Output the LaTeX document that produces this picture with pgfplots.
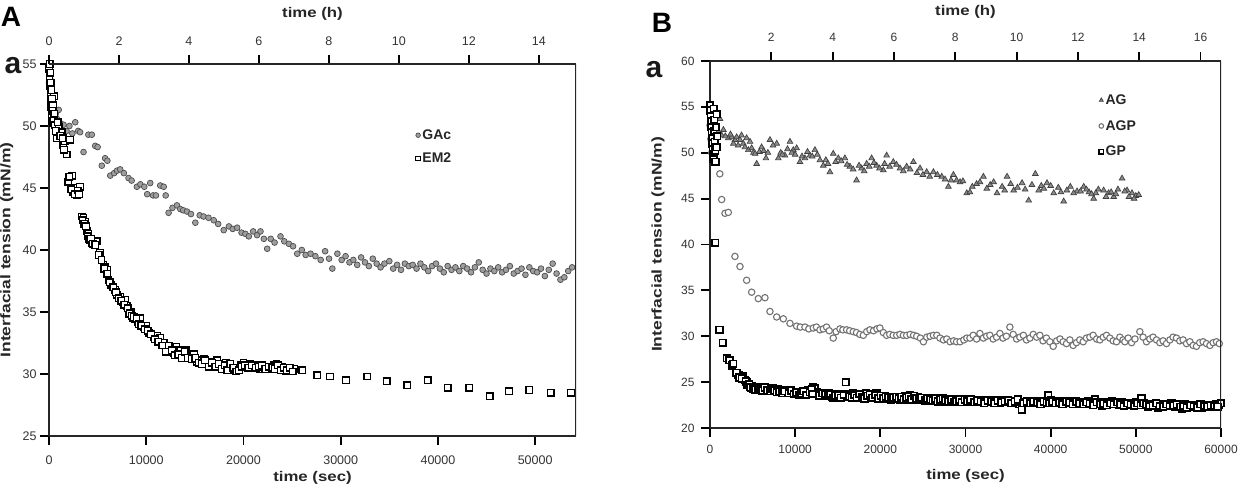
\documentclass[border=0pt]{standalone}
\usepackage{fontspec}
\setmainfont{Liberation Sans}
\usepackage{pgfplots}
\pgfplotsset{compat=1.18}
\usepackage{graphicx}
\begin{document}
\begin{tikzpicture}
\useasboundingbox (0,0) rectangle (1245pt,486pt);
\pgfplotsset{
  base/.style={scale only axis, anchor=south west,
    axis line style={black!85, line width=1.2pt},
    tick align=outside,
    major tick length=9pt,
    every tick/.style={draw=black, line width=1.8pt},
    /pgf/number format/assume math mode=true,
    /pgf/number format/fixed, /pgf/number format/precision=0, /pgf/number format/1000 sep={},
    ticklabel style={font=\fontsize{12.5}{14}\selectfont, text=black!80},
    scaled x ticks=false,
    label style={font=\bfseries\fontsize{14}{16}\selectfont, text=black!85},
  },
  topax/.style={base, axis x line*=top, axis y line=none},
  GAc/.style={only marks, mark=*, mark size=2.9pt, mark options={fill=black!38, draw=black!70, line width=0.7pt}},
  EM2/.style={only marks, mark=square*, mark size=3.3pt, mark options={fill=white, draw=black, line width=1.3pt}},
  AG/.style={only marks, mark=triangle*, mark size=3.3pt, mark options={fill=black!45, draw=black!75, line width=0.7pt}},
  AGP/.style={only marks, mark=*, mark size=3.2pt, mark options={fill=white, draw=black!55, line width=1.1pt}},
  GP/.style={only marks, mark=square*, mark size=3.3pt, mark options={fill=white, draw=black, line width=1.7pt}},
}
% ---------------- Panel A ----------------
\begin{axis}[base, at={(49pt,50pt)}, width=527pt, height=372pt,
  xmin=0, xmax=54200, ymin=25, ymax=55,
  axis x line*=bottom, axis y line*=left,
  xtick={0,10000,20000,30000,40000,50000}, ytick={25,30,35,40,45,50,55},
  xticklabel style={yshift=-7pt},
  xlabel={\scalebox{1.2}[1]{time (sec)}},
  xlabel style={at={(axis description cs:0.5,-0.112)}, anchor=center},
  ylabel={\scalebox{1.25}[1]{Interfacial tension (mN/m)}},
  ylabel style={at={(axis description cs:-0.080,0.5)}, anchor=center},
  legend style={at={(0.69,0.835)}, anchor=north west, draw=none, fill=none,
    font=\bfseries\fontsize{14}{16}\selectfont, row sep=8pt, text=black!85},
  legend cell align=left,
  legend image post style={mark size=2.3pt},
]
\addplot[GAc] coordinates {
(0,53.5)(100,54.2)(200,52.8)(300,53.6)(400,52.2)(500,51.6)(600,52.4)(700,51.0)(800,50.6)(1000,51.3)
(1200,50.2)(1500,50.1)(1800,49.6)(2100,50.0)(2400,49.4)(2700,50.3)(3000,49.6)(3200,49.5)(3550,47.9)(4050,49.3)
(4400,49.3)(4750,48.4)(5000,48.3)(5430,46.8)(5770,47.4)(6000,47.2)(6300,46.0)(6700,46.2)(7000,46.4)(7320,46.5)
(7700,46.2)(8180,45.8)(8500,45.6)(9040,45.1)(9400,45.3)(9800,45.1)(10100,44.5)(10410,45.4)(10700,44.4)(11000,44.4)
(11440,45.2)(11800,45.1)(12000,44.4)(12300,43.0)(12700,43.4)(13160,43.6)(13500,43.3)(13800,43.2)(14190,43.1)(14600,42.9)
(15050,42.2)(15500,42.8)(15900,42.7)(16400,42.6)(16940,42.4)(17400,42.1)(17970,41.6)(18500,41.9)(18900,41.7)(19350,41.8)
(19800,41.4)(20200,41.3)(20550,41.1)(21000,41.5)(21400,41.2)(21750,41.5)(22100,40.9)(22440,40.1)(22800,40.9)(23200,40.6)
(23810,41.1)(24200,40.7)(24670,40.5)(25100,40.3)(25530,39.7)(26000,40.0)(26400,39.6)(26900,39.7)(27400,39.5)(27940,39.2)
(28400,39.9)(28800,39.3)(29140,38.5)(29660,39.7)(30100,39.2)(30500,39.5)(30900,39.0)(31300,39.2)(31700,38.8)(32100,39.4)
(32500,39.0)(32900,38.7)(33300,39.3)(33700,38.9)(34100,38.6)(34500,38.9)(35000,39.1)(35400,38.5)(35800,38.8)(36200,38.4)
(36600,38.9)(37000,38.7)(37400,38.8)(37800,38.5)(38200,38.9)(38600,38.6)(39000,38.3)(39400,38.7)(39800,38.9)(40200,38.5)
(40600,38.2)(41000,38.7)(41400,38.4)(41800,38.6)(42200,38.3)(42600,38.7)(43000,38.5)(43400,38.2)(43800,38.6)(44200,39.0)
(44600,38.4)(45000,38.1)(45400,38.5)(45800,38.3)(46200,38.6)(46600,38.2)(47000,38.4)(47400,38.7)(47800,38.1)(48200,38.3)
(48600,38.5)(49000,38.0)(49400,38.6)(49800,38.3)(50200,38.2)(50600,38.5)(51000,37.9)(51400,38.4)(51800,38.9)(52200,38.1)
(52600,37.6)(53000,37.8)(53400,38.3)(53800,38.6)
};
\addlegendentry{GAc}
\addplot[EM2] coordinates {
(0,54.6)(50,53.8)(100,53.2)(150,52.6)(200,52.0)(250,51.5)(300,50.9)(350,50.4)(400,51.7)(450,50.2)(500,52.4)
(620,50.1)(790,49.0)(1000,49.9)(1310,49.5)(1470,48.5)(1650,48.8)(1820,47.7)(1990,45.5)(2160,48.9)(2400,46.0)
(2510,44.7)(2700,45.0)(2860,44.4)(3000,44.6)(3200,45.1)(3370,42.7)(3550,42.6)(3710,42.3)(3880,41.5)(4050,41.3)
(4230,40.8)(4400,40.6)(4600,40.7)(4910,40.7)(5260,39.8)(5600,38.8)(5800,38.6)(5950,38.4)(6120,37.6)(6400,37.2)
(6800,36.8)(7000,36.4)(7320,36.2)(7600,35.8)(7840,36.0)(8000,35.5)(8180,34.8)(8400,35.0)(8650,34.5)(8870,34.4)
(9100,34.2)(9350,34.5)(9730,33.8)(10000,33.9)(10300,33.3)(10750,33.0)(11100,33.1)(11440,32.9)(11800,32.5)(12130,32.1)
(12500,31.8)(12820,31.7)(13100,32.2)(13500,31.9)(13800,31.5)(14100,31.9)(14540,31.4)(14900,31.6)(15200,31.0)(15570,31.1)
(15900,31.2)(16200,30.9)(16600,31.0)(16900,30.8)(17300,31.1)(17630,30.7)(17900,30.5)(18200,30.9)(18500,30.6)(18830,30.3)
(19100,30.4)(19400,30.5)(19690,30.7)(20000,30.9)(20300,30.6)(20700,30.8)(21060,30.6)(21400,30.7)(21700,30.4)(22100,30.6)
(22440,30.5)(22800,30.4)(23120,30.7)(23400,30.8)(23700,30.5)(24000,30.6)(24330,30.2)(24600,30.4)(24900,30.3)(25200,30.4)
(26050,30.3)(27600,29.9)(28900,29.8)(30530,29.5)(32750,29.8)(34720,29.4)(36850,29.1)(38950,29.5)(41000,28.9)(43220,28.9)
(45310,28.2)(47320,28.6)(49410,28.7)(51590,28.5)(53690,28.5)
};
\addlegendentry{EM2}
\addplot[EM2, forget plot] coordinates {
(60,55.0)(120,54.3)(180,53.5)(240,52.9)(320,52.2)(380,51.2)(480,50.6)(540,51.0)(700,49.6)(880,50.3)(1150,49.2)
(1400,49.0)(1550,48.1)(2080,45.9)(2300,44.9)(2620,44.5)(2950,44.8)(3100,44.5)(3450,42.4)(3620,42.1)(3800,41.9)
(3960,41.1)(4150,40.9)(4320,40.9)(4500,40.5)(4750,40.4)(5100,39.6)(5400,39.2)(5700,38.5)(6000,38.1)(6250,37.4)
(6600,37.0)(6900,36.6)(7150,36.1)(7450,35.9)(7750,35.6)(8100,35.3)(8300,34.9)(8550,34.7)(8750,34.6)(9000,34.5)
(9250,34.0)(9500,33.9)(9850,33.6)(10150,33.5)(10500,33.2)(10900,32.8)(11250,32.6)(11650,32.3)(12000,31.8)(12300,32.3)
(12650,31.9)(12950,31.5)(13300,31.6)(13650,31.3)(13950,31.8)(14300,31.3)(14700,31.2)(15050,31.3)(15400,30.9)(15750,30.8)
(16050,31.1)(16400,30.6)(16750,30.9)(17100,30.6)(17450,30.8)(17750,30.4)(18050,30.7)(18350,30.3)(18650,30.8)(18950,30.5)
(19250,30.2)(19550,30.3)(19850,30.6)(20150,30.7)(20500,30.5)(20850,30.7)(21250,30.5)(21550,30.6)(21900,30.7)(22250,30.4)
(22600,30.6)(22950,30.5)(23250,30.4)(23550,30.7)(23850,30.3)(24150,30.5)(24450,30.3)(24750,30.5)(25050,30.2)
};
\end{axis}
\begin{axis}[topax, at={(49pt,50pt)}, width=527pt, height=372pt,
  xmin=0, xmax=15.06, ymin=25, ymax=55,
  xtick={0,2,4,6,8,10,12,14},
  xticklabel style={yshift=6pt},
  xlabel={\scalebox{1.2}[1]{time (h)}},
  xlabel style={at={(axis description cs:0.5,1.134)}, anchor=center},
]
\draw[black!85, line width=1.2pt] (rel axis cs:1,0) -- (rel axis cs:1,1);
\end{axis}
\node[font=\bfseries\fontsize{28}{30}\selectfont, text=black] at (11pt,469pt) {A};
\node[font=\bfseries\fontsize{30}{32}\selectfont, text=black!90] at (13pt,420pt) {a};
% ---------------- Panel B ----------------
\begin{axis}[base, at={(710pt,58pt)}, width=511pt, height=367pt,
  xmin=0, xmax=60000, ymin=20, ymax=60,
  axis x line*=bottom, axis y line*=left,
  xtick={0,10000,20000,30000,40000,50000,60000}, ytick={20,25,30,35,40,45,50,55,60},
  ticklabel style={font=\fontsize{12}{14}\selectfont},
  xticklabel style={yshift=-5pt},
  yticklabel style={xshift=-3pt},
  xlabel={\scalebox{1.2}[1]{time (sec)}},
  xlabel style={at={(axis description cs:0.5,-0.131)}, anchor=center},
  ylabel={\scalebox{1.25}[1]{Interfacial tension (mN/m)}},
  ylabel style={at={(axis description cs:-0.102,0.5)}, anchor=center},
  legend style={at={(0.755,0.92)}, anchor=north west, draw=none, fill=none,
    font=\bfseries\fontsize{14}{16}\selectfont, row sep=10.5pt, text=black!85},
  legend cell align=left,
  legend image post style={mark size=2.3pt},
]
\addplot[AG] coordinates {
(0,54.5)(80,53.2)(160,52.0)(240,50.8)(320,49.6)(400,51.4)(500,53.0)(650,50.2)(800,52.6)
(1170,53.7)(1370,51.9)(1570,52.5)(2150,51.6)(2550,51.7)(2930,51.4)(3130,51.7)(3520,51.4)(3910,51.0)(4300,51.6)
(4500,50.3)(4890,50.5)(5480,48.8)(6060,50.6)(6570,49.4)(7040,51.4)(7830,51.0)(8020,49.4)(8800,49.7)(9390,51.2)
(9780,50.3)(10170,50.5)(10560,49.0)(11150,49.4)(11740,49.7)(12320,50.3)(12910,49.2)(13300,48.6)(14080,47.9)(14470,49.9)
(15060,49.4)(15840,49.4)(16430,48.5)(17210,47.0)(17800,48.3)(18390,48.8)(18980,49.4)(19560,48.6)(20350,48.1)(20740,49.7)
(21520,49.0)(22310,48.3)(23090,48.5)(23880,49.0)(24660,48.3)(25440,47.9)(26230,47.9)(27210,47.4)(27990,46.3)(28580,47.6)
(28950,47.0)(29360,46.8)(30150,45.6)(30520,45.7)(31300,46.6)(32100,47.4)(32900,46.5)(33700,45.6)(34300,46.3)(34880,47.4)
(35660,45.9)(36640,46.7)(37420,44.8)(38200,47.7)(38900,46.4)(39570,46.7)(40360,45.6)(40900,46.2)(41530,44.7)(42310,46.3)
(43100,45.8)(43880,46.3)(44500,45.7)(45050,45.0)(45600,46.0)(46220,45.9)(46800,45.6)(47400,45.2)(47900,46.0)(48380,47.2)
(48970,45.9)(49550,45.6)(50000,45.3)(50340,45.4)
};
\addlegendentry{AG}
\addplot[AGP] coordinates {
(0,53.0)(100,51.5)(200,50.0)(300,52.2)(400,49.6)(600,50.8)
(1150,47.7)(1370,44.9)(1760,43.4)(2150,43.5)(2930,38.7)(3520,37.6)(4300,36.1)(4890,34.8)(5670,34.1)(6450,34.2)
(7040,32.7)(7830,32.1)(8610,31.9)(9390,31.4)(10170,31.1)(10600,31.0)(11150,31.0)(11600,30.8)(12130,30.9)(12500,31.0)
(12910,30.7)(13300,30.8)(13690,31.0)(14000,30.6)(14470,29.8)(14800,30.5)(15260,30.8)(15600,30.7)(16040,30.7)(16400,30.6)
(16820,30.5)(17200,30.4)(17600,30.2)(18000,30.1)(18400,30.5)(18780,30.7)(19200,30.6)(19600,30.8)(19950,30.9)(20350,30.4)
(20740,30.1)(21100,30.2)(21500,30.1)(21920,30.1)(22300,30.2)(22700,30.1)(23090,30.1)(23500,30.2)(23900,30.1)(24270,30.0)
(24700,29.8)(25060,29.4)(25450,29.9)(25840,30.0)(26230,30.1)(26630,30.1)(27000,29.8)(27410,29.6)(27800,29.7)(28190,29.4)
(28600,29.5)(28950,29.4)(29360,29.4)(29800,29.6)(30150,29.8)(30520,29.8)(30900,30.1)(31300,29.7)(31690,30.3)(32100,29.8)
(32480,30.0)(32860,30.1)(33250,29.7)(33650,29.9)(34040,30.3)(34400,29.8)(34800,30.0)(35210,31.0)(35600,30.2)(36000,29.7)
(36380,29.9)(36800,30.1)(37160,29.6)(37560,29.8)(37950,30.2)(38350,29.9)(38730,30.1)(39100,29.5)(39500,29.8)(39900,29.4)
(40300,28.9)(40700,29.5)(41100,29.7)(41470,29.4)(41860,29.2)(42250,29.6)(42640,29.0)(43030,29.3)(43420,29.6)(43820,29.4)
(44200,29.8)(44600,29.9)(44990,30.1)(45400,29.7)(45780,29.6)(46170,29.9)(46560,30.1)(46950,29.8)(47340,29.5)(47730,29.4)
(48120,29.9)(48500,29.6)(48710,29.4)(49100,29.8)(49500,29.3)(49900,29.7)(50470,30.5)(50850,29.9)(51250,29.4)(51640,29.7)
(52030,29.9)(52430,29.6)(52820,29.3)(53200,29.5)(53600,29.2)(54000,29.6)(54380,29.9)(54770,29.8)(55160,29.5)(55550,29.6)
(55950,29.2)(56340,29.4)(56730,29.0)(57120,28.9)(57500,29.3)(57900,29.4)(58300,29.2)(58700,29.0)(59080,29.3)(59470,29.4)
(59800,29.2)
};
\addlegendentry{AGP}
\addplot[GP] coordinates {
(0,55.2)(40,54.6)(80,54.0)(120,53.4)(160,52.8)(200,52.2)(240,51.6)(280,51.0)(320,50.4)(360,49.8)(400,49.3)
(440,54.8)(480,53.6)(520,52.4)(560,51.2)(600,50.2)(650,49.0)(620,40.2)
(1100,30.7)(1490,29.3)(1960,27.6)(2300,27.4)(2550,26.8)(2740,27.0)(3330,25.8)(3600,25.7)(3910,25.6)(4100,25.2)
(4300,25.0)(4500,24.8)(4690,24.5)(4900,24.6)(5200,24.4)(5480,24.5)(5800,24.3)(6000,24.4)(6260,24.3)(6600,24.2)
(6900,24.3)(7200,24.1)(7440,24.2)(7700,24.0)(8000,24.2)(8300,24.1)(8610,24.1)(8900,23.9)(9100,24.0)(9390,24.0)
(9700,23.8)(10000,23.9)(10300,23.7)(10560,23.8)(10800,23.9)(11100,23.7)(11540,24.1)(11800,23.8)(12130,24.5)(12300,24.3)
(12500,23.9)(12720,23.8)(13000,23.7)(13300,23.6)(13690,23.6)(14000,23.8)(14300,23.4)(14600,23.6)(14870,23.4)(15200,23.7)
(15500,23.5)(15960,25.0)(16200,23.7)(16500,23.6)(16820,23.8)(17100,23.5)(17400,23.4)(17700,23.6)(18000,23.6)(18300,23.8)
(18600,23.4)(18900,23.3)(19200,23.5)(19560,23.8)(19900,23.4)(20200,23.3)(20500,23.5)(20800,23.2)(21130,23.3)(21400,23.4)
(21700,23.2)(22000,23.3)(22310,23.1)(22600,23.3)(22900,23.5)(23200,23.2)(23470,23.6)(23800,23.3)(24100,23.2)(24400,23.4)
(24700,23.3)(25060,23.2)(25400,23.1)(25700,23.0)(26000,23.2)(26300,23.1)(26630,23.1)(26900,23.3)(27200,23.0)(27500,22.9)
(27800,23.1)(28190,23.0)(28500,22.9)(28800,23.0)(29100,23.0)(29400,22.9)(29750,23.0)(30000,22.9)(30400,22.8)(30800,23.0)
(31200,22.9)(31600,22.8)(32000,23.0)(32400,22.9)(32800,22.8)(33200,23.0)(33600,22.9)(34000,22.7)(34400,23.0)(34800,22.9)
(35200,22.8)(35600,22.9)(36000,22.8)(36300,22.6)(36600,22.0)(37000,22.8)(37400,22.9)(37800,22.8)(38200,22.7)(38600,22.9)
(39000,22.8)(39400,22.7)(39720,23.6)(40000,23.0)(40400,22.8)(40800,22.9)(41200,22.7)(41600,22.8)(42000,22.9)(42400,22.7)
(42800,22.8)(43200,22.6)(43600,22.8)(44000,22.7)(44400,22.9)(44800,22.6)(45200,23.1)(45600,22.7)(46000,22.4)(46400,22.8)
(46800,22.6)(47200,22.9)(47600,22.7)(48000,22.5)(48400,22.8)(48800,22.6)(49200,22.7)(49600,22.5)(50000,22.8)(50400,22.6)
(50680,23.2)(51000,22.5)(51400,22.3)(51800,22.6)(52200,22.4)(52600,22.2)(53000,22.6)(53400,22.4)(53800,22.5)(54200,22.7)
(54600,22.3)(55000,22.5)(55400,22.1)(55800,22.6)(56200,22.4)(56600,22.3)(57000,22.5)(57400,22.4)(57800,22.2)(58200,22.5)
(58600,22.4)(59000,22.3)(59400,22.6)(59800,22.5)(60000,22.7)
};
\addlegendentry{GP}
\addplot[AG, forget plot] coordinates {
(1000,52.3)(1800,51.8)(2400,52.0)(2750,51.0)(3300,50.8)(3700,51.9)(4100,50.6)(4700,51.2)(5100,50.0)(5300,49.9)
(5800,50.1)(6300,50.2)(6800,50.0)(7400,50.8)(8300,50.0)(8500,49.8)(9100,50.4)(9600,50.0)(10000,49.8)(10800,49.6)
(11450,50.1)(12000,49.6)(12600,49.8)(13600,49.2)(13850,48.8)(14750,49.0)(15400,49.1)(16100,48.7)(16800,48.2)(17500,48.6)
(18100,48.0)(18700,48.5)(19250,48.9)(19900,48.3)(20500,48.8)(21100,48.5)(21900,48.7)(22700,48.0)(23500,48.2)(24300,47.8)
(25000,47.6)(25800,47.4)(26700,47.6)(27600,47.1)(28300,47.0)(29700,46.9)(30800,46.3)(31700,46.8)(32500,46.1)(33300,46.8)
(34600,45.9)(35300,46.6)(36100,46.2)(37000,46.0)(37800,46.5)(38600,45.9)(39200,46.1)(40000,46.4)(41200,45.7)(41900,45.9)
(42700,45.6)(43500,45.8)(44200,46.0)(44800,45.5)(45300,45.6)(46500,45.2)(47100,45.7)(47650,45.5)(48700,45.8)(49200,45.2)
(49800,45.0)
};
\addplot[GP, forget plot] coordinates {
(700,52.8)(750,50.6)(800,54.2)(850,51.8)(3100,26.0)(3450,25.5)(3750,25.4)(4200,25.1)(4400,24.7)(4600,24.8)(4800,24.4)
(5050,24.3)(5350,24.2)(5650,24.4)(5900,24.2)(6150,24.1)(6450,24.4)(6750,24.1)(7050,24.0)(7350,24.3)(7550,24.1)(7850,23.9)
(8150,24.0)(8450,23.8)(8750,24.0)(9250,23.8)(9550,24.1)(9850,23.7)(10150,23.9)(10450,23.6)(10700,23.7)(10950,24.0)
(11300,23.6)(11700,23.9)(11950,24.2)(12050,23.7)(12850,23.5)(13150,23.8)(13500,23.7)(13850,23.5)(14150,23.7)(14450,23.3)
(14750,23.5)(15050,23.6)(15350,23.3)(15700,23.6)(16350,23.4)(16650,23.3)(16950,23.6)(17250,23.3)(17550,23.7)(17850,23.4)
(18150,23.2)(18450,23.5)(18750,23.7)(19050,23.3)(19400,23.6)(19750,23.2)(20050,23.5)(20350,23.2)(20650,23.4)(20950,23.3)
(21250,23.1)(21550,23.3)(21850,23.4)(22150,23.2)(22450,23.4)(22750,23.1)(23050,23.3)(23350,23.4)(23650,23.1)(23950,23.5)
(24250,23.2)(24550,23.1)(24850,23.3)(25250,23.0)(25550,23.2)(25850,23.1)(26150,23.0)(26450,23.2)(26750,22.9)(27050,23.1)
(27350,23.2)(27650,23.0)(27950,22.9)(28350,23.1)(28650,22.8)(28950,22.9)(29250,23.1)(29550,22.8)(29900,23.1)(30200,22.9)
(30600,23.1)(31000,22.8)(31400,23.0)(31800,22.9)(32200,22.7)(32600,23.0)(33000,22.9)(33400,22.7)(33800,23.0)(34200,22.8)
(34600,22.9)(35000,23.0)(35400,22.7)(35800,22.9)(36150,23.1)(36800,22.7)(37200,22.9)(37600,22.7)(38000,22.9)(38400,22.8)
(38800,22.6)(39200,22.9)(39550,22.8)(39850,22.7)(40200,22.9)(40600,22.7)(41000,22.8)(41400,22.6)(41800,22.9)(42200,22.8)
(42600,22.6)(43000,22.9)(43400,22.7)(43800,22.6)(44200,22.8)(44600,22.7)(45000,22.5)(45400,22.8)(45800,22.6)(46200,22.7)
(46600,22.5)(47000,22.7)(47400,22.6)(47800,22.8)(48200,22.6)(48600,22.4)(49000,22.7)(49400,22.6)(49800,22.4)(50200,22.7)
(50600,22.5)(50900,22.7)(51200,22.6)(51600,22.4)(52000,22.5)(52400,22.7)(52800,22.4)(53200,22.3)(53600,22.6)(54000,22.4)
(54400,22.5)(54800,22.6)(55200,22.3)(55600,22.4)(56000,22.2)(56400,22.5)(56800,22.4)(57200,22.2)(57600,22.6)(58000,22.4)
(58400,22.3)(58800,22.5)(59200,22.4)(59600,22.3)
};
\end{axis}
\begin{axis}[topax, at={(710pt,58pt)}, width=511pt, height=367pt,
  xmin=0, xmax=16.667, ymin=20, ymax=60,
  xtick={2,4,6,8,10,12,14,16},
  ticklabel style={font=\fontsize{12}{14}\selectfont},
  xticklabel style={yshift=7pt},
  xlabel={\scalebox{1.2}[1]{time (h)}},
  xlabel style={at={(axis description cs:0.5,1.133)}, anchor=center},
]
\draw[black!85, line width=1.2pt] (rel axis cs:1,0) -- (rel axis cs:1,1);
\end{axis}
\node[font=\bfseries\fontsize{28}{30}\selectfont, text=black] at (662pt,463pt) {B};
\node[font=\bfseries\fontsize{30}{32}\selectfont, text=black!90] at (654pt,416pt) {a};
\end{tikzpicture}
\end{document}
